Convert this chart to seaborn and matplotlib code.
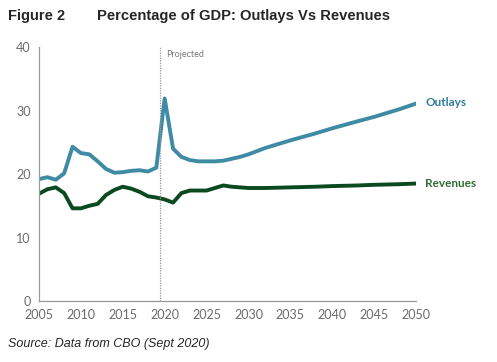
import matplotlib
matplotlib.use("Agg")
import matplotlib.pyplot as plt
import seaborn as sns
import pandas as pd

# annual values, % of GDP
years = list(range(2005, 2031)) + [2032, 2035, 2038, 2040, 2043, 2045, 2048, 2050]
outlays = [19.2, 19.5, 19.1, 20.1, 24.3, 23.3, 23.1, 22.0, 20.8, 20.2,
           20.3, 20.5, 20.6, 20.4, 21.0, 31.9, 24.0, 22.7, 22.2, 22.0,
           22.0, 22.0, 22.1, 22.4, 22.7, 23.1,
           24.1, 25.3, 26.4, 27.2, 28.3, 29.0, 30.2, 31.1]
revenues = [16.9, 17.6, 17.9, 17.0, 14.6, 14.6, 15.0, 15.3, 16.7, 17.5,
            18.0, 17.7, 17.2, 16.5, 16.3, 16.0, 15.5, 17.0, 17.4, 17.4,
            17.4, 17.8, 18.2, 18.0, 17.9, 17.8,
            17.8, 17.9, 18.0, 18.1, 18.2, 18.3, 18.4, 18.5]

df = pd.DataFrame({"year": years, "Outlays": outlays, "Revenues": revenues})

sns.set_style("white")
plt.rcParams["font.family"] = ["Lato", "DejaVu Sans"]

fig = plt.figure(figsize=(4.97, 3.62), dpi=100)
ax = fig.add_axes([0.0785, 0.1685, 0.7585, 0.7015])

sns.lineplot(data=df, x="year", y="Outlays", ax=ax, color="#3f8ba4", linewidth=2.8)
sns.lineplot(data=df, x="year", y="Revenues", ax=ax, color="#0b4a1f", linewidth=2.8)

ax.axvline(2019.5, color="#9a9a9a", linestyle=(0, (1, 1)), linewidth=0.9)
ax.text(2020.2, 39.6, "Projected", fontsize=6.5, color="#7a7a7a", va="top")

ax.text(2051.1, 31.2, "Outlays", fontsize=8.5, fontweight="bold", color="#2f7e98", va="center")
ax.text(2051.1, 18.5, "Revenues", fontsize=8.5, fontweight="bold", color="#2f6b37", va="center")

ax.set_xlim(2005, 2050)
ax.set_ylim(0, 40)
ax.set_xticks(range(2005, 2051, 5))
ax.set_yticks([0, 10, 20, 30, 40])
ax.set_xlabel("")
ax.set_ylabel("")
ax.tick_params(direction="in", length=4, width=0.8, color="#9a9a9a",
               labelsize=9, labelcolor="#6b6b6b", pad=6)
for s in ["top", "right"]:
    ax.spines[s].set_visible(False)
for s in ["left", "bottom"]:
    ax.spines[s].set_color("#9a9a9a")
    ax.spines[s].set_linewidth(0.9)

fig.text(0.016, 0.955, "Figure 2", fontsize=10.5, fontweight="bold",
         family="Liberation Sans", va="center")
fig.text(0.195, 0.955, "Percentage of GDP: Outlays Vs Revenues", fontsize=10.6,
         fontweight="bold", family="Liberation Sans", va="center")
fig.text(0.016, 0.05, "Source: Data from CBO (Sept 2020)", fontsize=9,
         style="italic", family="Liberation Sans", va="center")

fig.savefig("out.png", dpi=100)
